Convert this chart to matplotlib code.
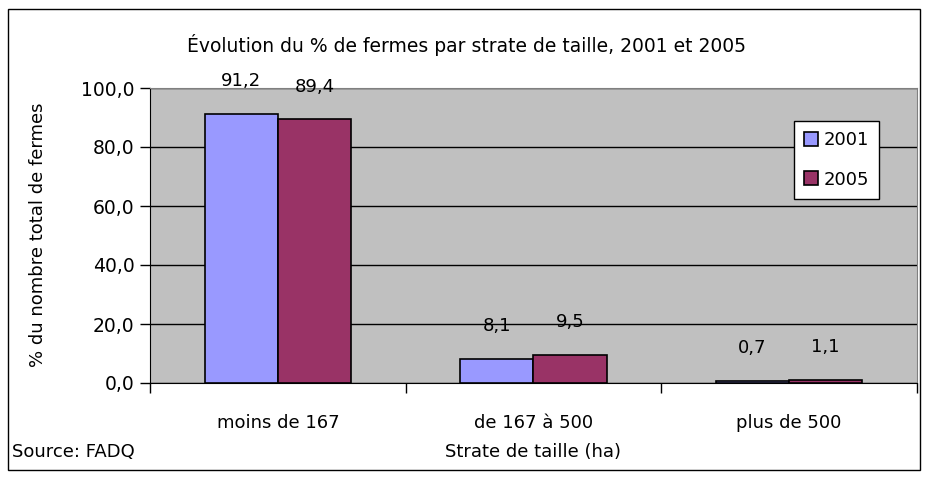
import matplotlib.pyplot as plt
import numpy as np
from matplotlib.patches import Rectangle
from matplotlib.ticker import FuncFormatter

categories = ['moins de 167', 'de 167 à 500', 'plus de 500']
years = ['2001', '2005']
pct_2001 = [91.2, 8.1, 0.7]
pct_2005 = [89.4, 9.5, 1.1]
labels_2001 = ['91,2', '8,1', '0,7']
labels_2005 = ['89,4', '9,5', '1,1']

plt.rcParams['font.family'] = 'DejaVu Sans'
plt.rcParams['font.size'] = 13

fig = plt.figure(figsize=(9.28, 4.8), dpi=100)
ax = fig.add_axes([150/928, 97/480, 767/928, 295/480])
ax.set_facecolor('#C0C0C0')

x = np.arange(len(categories))
w = 0.286
b1 = ax.bar(x - w/2, pct_2001, w, color='#9999FF', edgecolor='black', linewidth=1.2, label=years[0], zorder=3)
b2 = ax.bar(x + w/2, pct_2005, w, color='#993366', edgecolor='black', linewidth=1.2, label=years[1], zorder=3)

for rect, lab in zip(b1, labels_2001):
    ax.annotate(lab, (rect.get_x() + rect.get_width()/2, rect.get_height()),
                xytext=(0, 23.5), textcoords='offset points', ha='center', va='center', fontsize=13)
for rect, lab in zip(b2, labels_2005):
    ax.annotate(lab, (rect.get_x() + rect.get_width()/2, rect.get_height()),
                xytext=(0, 23.5), textcoords='offset points', ha='center', va='center', fontsize=13)

ax.set_xlim(-0.5, len(categories) - 0.5)
ax.set_ylim(0, 100)
ax.set_yticks([0, 20, 40, 60, 80, 100])
ax.yaxis.set_major_formatter(FuncFormatter(lambda v, p: f'{v:.1f}'.replace('.', ',')))
ax.yaxis.grid(True, color='black', linewidth=1, zorder=0)
ax.tick_params(axis='y', length=7, width=1, direction='out', pad=4, labelsize=13.5)

ax.set_xticks(x)
ax.set_xticklabels(categories)
ax.set_xticks(np.arange(len(categories) + 1) - 0.5, minor=True)
ax.tick_params(axis='x', which='major', length=0, pad=22, labelsize=13)
ax.tick_params(axis='x', which='minor', length=7, width=1, direction='out')

for s in ['top', 'right']:
    ax.spines[s].set_color('#808080')
for s in ['left', 'bottom']:
    ax.spines[s].set_color('black')

leg = ax.legend(loc='upper left', bbox_to_anchor=(794/928, 1 - 121/480), bbox_transform=fig.transFigure,
                borderaxespad=0, fancybox=False, framealpha=1, edgecolor='black',
                handlelength=0.8, handleheight=0.8, handletextpad=0.3, labelspacing=1.2,
                borderpad=0.55, fontsize=13)
leg.get_frame().set_linewidth(1)

fig.text(467/928, 1 - 45/480, 'Évolution du % de fermes par strate de taille, 2001 et 2005',
         ha='center', va='center', fontsize=13.5)
fig.text(38/928, 1 - 235/480, '% du nombre total de fermes', rotation=90,
         ha='center', va='center', fontsize=13)
fig.text(533/928, 1 - 452/480, 'Strate de taille (ha)', ha='center', va='center', fontsize=13)
fig.text(12/928, 1 - 452/480, 'Source: FADQ', ha='left', va='center', fontsize=13)

fig.patches.append(Rectangle((8/928, 10/480), 912/928, 461/480, transform=fig.transFigure,
                             fill=False, edgecolor='black', linewidth=1))

fig.savefig('out.png', dpi=100)
